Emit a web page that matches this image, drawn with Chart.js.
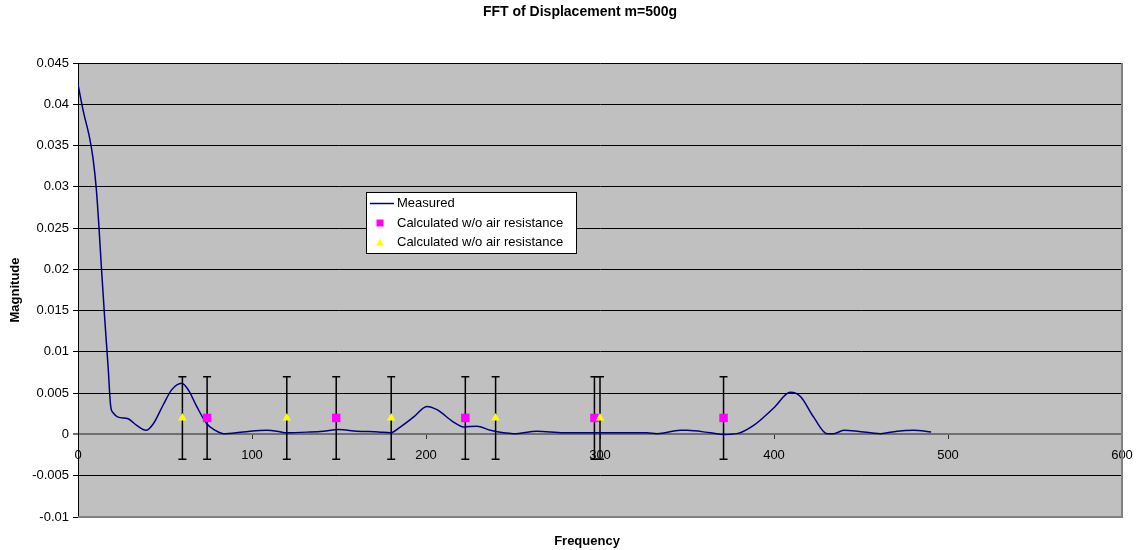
<!DOCTYPE html>
<html lang="en">
<head>
  <meta charset="UTF-8">
  <title>FFT of Displacement m=500g</title>
  <script src="https://cdn.jsdelivr.net/npm/chart.js"></script>
  <style>
    body { margin: 0; background: #fff; }
    #wrap { width: 1138px; height: 550px; }
  </style>
</head>
<body>
  <div id="wrap"><canvas id="grafica" width="1138" height="550"></canvas></div>

  <script>
    // measured spectrum
    const measFreq = [0, 3, 6.7, 8.6, 10.5, 12, 13.4, 15.4, 17.3, 18.8, 20.3, 23, 28.8, 33.7, 39.1, 43.3, 49, 53.8, 59.6, 63.4,
      68.2, 74, 78.8, 83.5, 95, 108.5, 114.3, 120, 133.4, 141, 149.6, 160.3, 172.7, 179.4, 185.2, 192.8, 200.5, 206.3,
      215.8, 221.6, 229.3, 237, 250.4, 263.8, 279.1, 294.4, 311.7, 327, 332.8, 346.2, 350, 363.4, 371, 378.7, 388.3,
      399.8, 409.4, 415.2, 422.8, 430.5, 434.3, 440.1, 447.8, 461.2, 470.8, 480.3, 490.3];
    const measMag = [0.0424, 0.0392, 0.0359, 0.0335, 0.0298, 0.0253, 0.0204, 0.0139, 0.0082, 0.0034, 0.0026, 0.0021, 0.0019,
      0.0011, 0.0005, 0.0013, 0.0036, 0.0054, 0.0062, 0.0054, 0.0034, 0.0013, 0.0005, 0.0001, 0.0003, 0.0005, 0.0004,
      0.0002, 0.0003, 0.0004, 0.0006, 0.0004, 0.0003, 0.0002, 0.0009, 0.0021, 0.0034, 0.003, 0.0015, 0.0009, 0.001,
      0.0005, 0.0001, 0.0004, 0.0002, 0.0002, 0.0002, 0.0002, 0.0001, 0.0005, 0.0005, 0.0002, 0.0, 0.0001, 0.0011,
      0.0032, 0.0051, 0.0046, 0.0021, 0.0001, 0.0001, 0.0005, 0.0004, 0.0001, 0.0004, 0.0005, 0.0003];

    // calculated modes
    const sqFreq = [74.2, 148.4, 222.6, 296.8, 371];
    const sqMag = [0.002, 0.002, 0.002, 0.002, 0.002];
    const triFreq = [60, 120, 180, 240, 300];
    const triMag = [0.002, 0.002, 0.002, 0.002, 0.002];
    const errPlus = [0.005, 0.005, 0.005, 0.005, 0.005];
    const errMinus = [0.005, 0.005, 0.005, 0.005, 0.005];

    const labels = ['Measured', 'Calculated w/o air resistance', 'Calculated w/o air resistance'];

    const FONT = 'Liberation Sans, Arial, sans-serif';
    Chart.defaults.font.family = FONT;
    Chart.defaults.color = '#000';

    const toXY = (xs, ys) => xs.map((x, i) => ({ x: x, y: ys[i] }));
    const isZero = v => Math.abs(v) < 1e-9;

    // gray plot area, frame, error bars, texts and legend
    const decor = {
      id: 'decor',
      beforeDraw(chart) {
        const { ctx, chartArea: a } = chart;
        ctx.save();
        ctx.fillStyle = '#C0C0C0';
        ctx.fillRect(a.left, a.top, a.right - a.left, a.bottom - a.top);
        ctx.restore();
      },
      beforeDatasetsDraw(chart) {
        const { ctx, scales: { x, y } } = chart;
        ctx.save();
        ctx.strokeStyle = '#000';
        ctx.lineWidth = 1.5;
        chart.data.datasets.forEach(ds => {
          if (!ds.errPlus) return;
          ds.data.forEach((p, i) => {
            const px = x.getPixelForValue(p.x);
            const top = y.getPixelForValue(p.y + ds.errPlus[i]);
            const bot = y.getPixelForValue(p.y - ds.errMinus[i]);
            ctx.beginPath();
            ctx.moveTo(px, top); ctx.lineTo(px, bot);
            ctx.moveTo(px - 4, top); ctx.lineTo(px + 4, top);
            ctx.moveTo(px - 4, bot); ctx.lineTo(px + 4, bot);
            ctx.stroke();
          });
        });
        ctx.restore();
      },
      afterDraw(chart) {
        const { ctx, chartArea: a } = chart;
        ctx.save();
        // frame right / bottom
        ctx.strokeStyle = '#808080';
        ctx.lineWidth = 2;
        ctx.beginPath();
        ctx.moveTo(a.right, a.top); ctx.lineTo(a.right, a.bottom); ctx.lineTo(a.left, a.bottom);
        ctx.stroke();

        // titles
        ctx.fillStyle = '#000';
        ctx.textAlign = 'center';
        ctx.textBaseline = 'middle';
        ctx.font = 'bold 14px ' + FONT;
        ctx.fillText('FFT of Displacement m=500g', 580, 12);
        ctx.font = 'bold 13px ' + FONT;
        ctx.fillText('Frequency', 587, 541);
        ctx.translate(15, 290);
        ctx.rotate(-Math.PI / 2);
        ctx.fillText('Magnitude', 0, 0);
        ctx.restore();

        // legend
        ctx.save();
        const lx = 366, ly = 192, lw = 210, lh = 61;
        ctx.fillStyle = '#fff';
        ctx.fillRect(lx, ly, lw, lh);
        ctx.strokeStyle = '#000';
        ctx.lineWidth = 1;
        ctx.strokeRect(lx + 0.5, ly + 0.5, lw, lh);
        ctx.font = '13px ' + FONT;
        ctx.textAlign = 'left';
        ctx.textBaseline = 'middle';
        const rows = [203.5, 223, 242.5];
        chart.data.datasets.forEach((ds, i) => {
          const ry = rows[i];
          if (ds.type === 'line') {
            ctx.strokeStyle = ds.borderColor;
            ctx.lineWidth = 1.5;
            ctx.beginPath();
            ctx.moveTo(370, ry); ctx.lineTo(394, ry);
            ctx.stroke();
          } else if (ds.pointStyle === 'rect') {
            ctx.fillStyle = ds.backgroundColor;
            ctx.fillRect(376.5, ry - 3.5, 7, 7);
          } else {
            ctx.fillStyle = ds.backgroundColor;
            ctx.beginPath();
            ctx.moveTo(380, ry - 4); ctx.lineTo(384, ry + 3); ctx.lineTo(376, ry + 3);
            ctx.closePath();
            ctx.fill();
          }
          ctx.fillStyle = '#000';
          ctx.fillText(ds.label, 397, ry);
        });
        ctx.restore();
      }
    };

    const ctx = document.getElementById('grafica').getContext('2d');
    const chart = new Chart(ctx, {
      data: {
        datasets: [
          {
            type: 'line',
            label: labels[0],
            data: toXY(measFreq, measMag),
            borderColor: '#000080',
            borderWidth: 1.5,
            pointRadius: 0,
            fill: false,
            cubicInterpolationMode: 'monotone',
            order: 3
          },
          {
            type: 'scatter',
            label: labels[1],
            data: toXY(sqFreq, sqMag),
            errPlus: errPlus,
            errMinus: errMinus,
            pointStyle: 'rect',
            pointRadius: 6,
            backgroundColor: '#FF00FF',
            borderWidth: 0,
            order: 2
          },
          {
            type: 'scatter',
            label: labels[2],
            data: toXY(triFreq, triMag),
            errPlus: errPlus,
            errMinus: errMinus,
            pointStyle: 'triangle',
            pointRadius: 5,
            backgroundColor: '#FFFF00',
            borderWidth: 0,
            order: 1
          }
        ]
      },
      options: {
        responsive: false,
        animation: false,
        layout: { padding: { top: 63, right: 16, bottom: 33, left: 0 } },
        scales: {
          x: {
            type: 'linear',
            position: { y: 0 },
            min: 0,
            max: 600,
            ticks: { stepSize: 100, maxRotation: 0, padding: 9, font: { size: 13 }, color: '#000' },
            grid: { drawOnChartArea: false, drawTicks: true, tickLength: 4, color: '#333' },
            border: { display: true, color: '#707070', width: 2 },
            afterFit: s => { s.paddingRight = 0; s.paddingLeft = 0; }
          },
          y: {
            type: 'linear',
            min: -0.01,
            max: 0.045,
            ticks: {
              stepSize: 0.005,
              padding: 4,
              font: { size: 13 },
              color: '#000',
              callback: v => String(parseFloat(v.toFixed(3)))
            },
            grid: {
              color: c => (c.tick && isZero(c.tick.value)) ? '#707070' : '#000',
              lineWidth: c => (c.tick && isZero(c.tick.value)) ? 2 : 1,
              tickLength: 5
            },
            border: { color: '#000', width: 1 },
            afterFit: s => { s.width = 78; }
          }
        },
        plugins: {
          legend: { display: false },
          title: { display: false },
          tooltip: { enabled: false }
        }
      },
      plugins: [decor]
    });
  </script>
</body>
</html>
